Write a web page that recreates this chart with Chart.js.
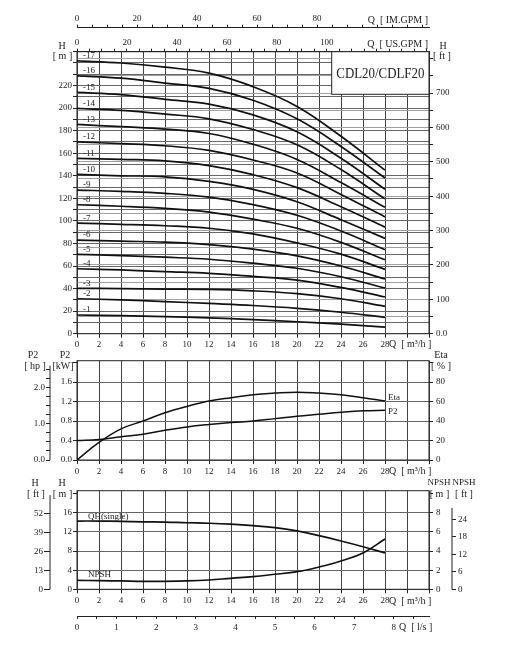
<!DOCTYPE html>
<html>
<head>
<meta charset="utf-8">
<script src="https://cdn.jsdelivr.net/npm/chart.js@4.4.1/dist/chart.umd.min.js"></script>
<style>
    html, body { margin: 0; padding: 0; background: #fff; }
    #page { position: relative; width: 517px; height: 650px; overflow: hidden; background: #fff; }
    #page canvas { position: absolute; left: 0; }
</style>
</head>
<body>
<div id="page">
    <canvas id="qh-chart" width="517" height="352" style="top:0px"></canvas>
    <canvas id="power-chart" width="517" height="128" style="top:348px"></canvas>
    <canvas id="npsh-chart" width="517" height="174" style="top:476px"></canvas>
</div>
<script>
// ---------- data (read off the CDL20 / CDLF20 sheet) ----------
// head of each stage count, Q in m3/h
const stageFlow = [0, 4, 8, 12, 16, 20, 24, 28];
const headStage1  = [16.6, 16.0, 15.2, 14.0, 12.5, 10.6, 8.5, 5.8];
const headStage2  = [31.0, 30.0, 28.5, 26.8, 25.0, 22.5, 19.0, 14.5];
const headStage3  = [40.2, 40.0, 39.6, 39.3, 38.0, 35.5, 31.0, 24.2];
const headStage4  = [57.6, 56.5, 55.0, 53.5, 50.8, 47.5, 41.0, 32.5];
const headStage5  = [70.3, 69.3, 67.8, 66.0, 62.5, 58.0, 50.5, 40.5];
const headStage6  = [83.0, 82.0, 81.2, 79.0, 75.0, 69.0, 60.0, 48.5];
const headStage7  = [98.0, 97.0, 95.7, 93.5, 88.5, 80.5, 70.5, 57.0];
const headStage8  = [114.3, 113.0, 111.1, 107.8, 101.5, 93.5, 81.0, 65.5];
const headStage9  = [127.3, 126.2, 124.4, 121.0, 114.5, 105.0, 91.0, 74.5];
const headStage10 = [141.2, 140.0, 139.1, 135.0, 128.0, 117.0, 101.0, 84.5];
const headStage11 = [155.4, 154.5, 153.3, 149.0, 141.0, 129.5, 112.5, 94.5];
const headStage12 = [170.0, 168.5, 166.6, 162.5, 154.0, 142.5, 123.5, 103.5];
const headStage13 = [185.5, 183.5, 181.4, 177.5, 168.0, 154.5, 134.0, 112.0];
const headStage14 = [199.7, 198.0, 194.7, 190.5, 181.0, 167.5, 145.5, 119.5];
const headStage15 = [213.9, 212.0, 207.7, 203.5, 194.0, 179.0, 155.5, 128.0];
const headStage16 = [228.6, 226.5, 222.2, 217.5, 207.0, 190.5, 166.0, 138.0];
const headStage17 = [241.9, 240.0, 236.3, 231.0, 219.0, 201.5, 175.0, 145.0];

// single stage curves, Q in m3/h
const curveFlow = [0, 2, 4, 6, 8, 10, 12, 14, 16, 18, 20, 22, 24, 26, 28];
const etaPct   = [0, 18, 32, 40, 48.5, 55, 60.5, 64, 67, 68.7, 69.7, 68.7, 67, 64, 60.5];
const p2Kw     = [0.40, 0.42, 0.48, 0.53, 0.61, 0.68, 0.73, 0.77, 0.80, 0.85, 0.90, 0.94, 0.98, 1.01, 1.02];
const qhSingle = [14.26, 14.26, 14.2, 14.1, 14.05, 13.9, 13.8, 13.6, 13.3, 12.9, 12.2, 11.2, 10.1, 8.9, 7.6];
const npshM    = [0.94, 0.90, 0.87, 0.83, 0.83, 0.87, 0.97, 1.15, 1.32, 1.57, 1.84, 2.33, 2.96, 3.79, 5.25];

const stageHeads = [headStage1, headStage2, headStage3, headStage4, headStage5, headStage6,
    headStage7, headStage8, headStage9, headStage10, headStage11, headStage12, headStage13,
    headStage14, headStage15, headStage16, headStage17];

// unit conversions
const US_GPM = 4.4029;   // per m3/h
const IM_GPM = 3.6662;   // per m3/h
const L_S = 1 / 3.6;     // per m3/h
const FT = 3.28084;      // per m
const HP = 1.34102;      // per kW

const Q_MAX = 32;
const FONT = 'Liberation Serif';
const INK = '#222';

// ---------- helpers ----------
const fixW = (w) => (s) => { s.width = w; };
const fixH = (h) => (s) => { s.height = h; };
const isInt = (v) => Math.abs(v - Math.round(v)) < 1e-6;

function pairs(xs, ys) {
    return xs.map((x, i) => ({ x: x, y: ys[i] }));
}

function curve(data, yAxisID, width) {
    return {
        data: data,
        yAxisID: yAxisID,
        borderColor: '#111',
        borderWidth: width || 1.7,
        pointRadius: 0,
        fill: false,
        tension: 0.4
    };
}

// one scale with a fixed box size so the three charts line up
// o.axisTop: the outer unit axes stop short of the frame top
function scale(o) {
    const horiz = o.position === 'top' || o.position === 'bottom';
    const inRange = (c) => !(o.axisTop && c.tick && c.tick.value > o.axisTop);
    return {
        type: 'linear',
        position: o.position,
        weight: o.weight || 0,
        min: 0,
        max: o.max,
        axisTop: o.axisTop,
        afterFit: horiz ? fixH(o.size) : fixW(o.size),
        border: { display: o.border !== false && !o.axisTop, color: INK, width: 1 },
        grid: {
            drawOnChartArea: !!o.grid,
            color: o.grid || 'transparent',
            lineWidth: 1,
            tickLength: o.tick || 4,
            tickColor: (c) => (inRange(c) ? INK : 'transparent')
        },
        ticks: {
            stepSize: o.step,
            autoSkip: false,
            includeBounds: false,
            maxRotation: 0,
            padding: o.pad == null ? 2 : o.pad,
            color: INK,
            font: { family: FONT, size: 9 },
            callback: o.label
        }
    };
}

function flowScale(height) {
    return scale({
        position: 'bottom', max: Q_MAX, size: height, step: 2, border: false,
        grid: '#444', label: (v) => (v <= 28 ? String(v) : '')
    });
}

function put(ctx, str, x, y, align, size) {
    ctx.font = (size || 9) + 'px "' + FONT + '"';
    ctx.fillStyle = INK;
    ctx.textAlign = align || 'center';
    ctx.textBaseline = 'middle';
    ctx.fillText(str, x, y);
}

// frame round the plot + the shortened outer axis lines
const framePlugin = {
    id: 'frame',
    beforeDatasetsDraw(chart) {
        const { ctx, chartArea: a } = chart;
        ctx.save();
        ctx.strokeStyle = INK;
        ctx.lineWidth = 1;
        ctx.strokeRect(a.left, a.top, a.right - a.left, a.bottom - a.top);
        Object.values(chart.scales).forEach((s) => {
            if (!s.options.axisTop) return;
            const x = s.position === 'left' ? s.right : s.left;
            ctx.beginPath();
            ctx.moveTo(x, s.getPixelForValue(0));
            ctx.lineTo(x, s.getPixelForValue(s.options.axisTop));
            ctx.stroke();
        });
        ctx.restore();
    }
};

const baseOptions = {
    responsive: false,
    animation: false,
    events: [],
    plugins: { legend: { display: false }, tooltip: { enabled: false } }
};

// ---------- QH chart (all stages) ----------
new Chart(document.getElementById('qh-chart'), {
    type: 'line',
    data: {
        datasets: stageHeads.map((h) => curve(pairs(stageFlow, h), 'y', 1.7))
    },
    options: {
        ...baseOptions,
        layout: { padding: 0 },
        scales: {
            x: flowScale(18.3),
            xUs: scale({
                position: 'top', weight: 0, max: Q_MAX * US_GPM, size: 24, step: 5, tick: 3, pad: 1,
                label: (v) => (v % 20 === 0 && v <= 100 ? String(v) : '')
            }),
            xIm: scale({
                position: 'top', weight: 1, max: Q_MAX * IM_GPM, size: 27.7, step: 5, tick: 3, pad: 1,
                label: (v) => (v % 20 === 0 && v <= 80 ? String(v) : '')
            }),
            y: scale({
                position: 'left', weight: 0, max: 250, size: 77, step: 10, pad: 1, border: false,
                grid: '#666', label: (v) => (v % 20 === 0 && v <= 220 ? String(v) : '')
            }),
            yFt: scale({
                position: 'right', weight: 0, max: 250 * FT, size: 88, step: 50, pad: 3, border: false,
                grid: '#a0a0a0', label: (v) => (v === 0 ? '0.0' : (v % 100 === 0 && v <= 700 ? String(v) : ''))
            })
        }
    },
    plugins: [framePlugin, {
        id: 'qhText',
        beforeDatasetsDraw(chart) {
            // model name box in the top right corner
            const { ctx, chartArea: a } = chart;
            const left = a.right - 97.3;
            ctx.save();
            ctx.fillStyle = '#fff';
            ctx.fillRect(left, a.top, a.right - left, 42.6);
            ctx.strokeStyle = INK;
            ctx.lineWidth = 1;
            ctx.strokeRect(left, a.top, a.right - left, 42.6);
            ctx.translate((left + a.right) / 2, a.top + 22);
            ctx.scale(0.86, 1);
            put(ctx, 'CDL20/CDLF20', 0, 0, 'center', 15);
            ctx.restore();
        },
        afterDraw(chart) {
            const { ctx, scales } = chart;
            ctx.save();
            put(ctx, 'Q  [ IM.GPM ]', 428, 20, 'right', 10);
            put(ctx, 'Q  [ US.GPM ]', 428, 44, 'right', 10);
            put(ctx, 'H', 62, 46, 'center', 10);
            put(ctx, '[ m ]', 62.5, 56.5, 'center', 10);
            put(ctx, 'H', 443, 46, 'center', 10);
            put(ctx, '[ ft ]', 442, 56.5, 'center', 10);
            put(ctx, 'Q  [ m³/h ]', 389, 344.5, 'left', 10);
            // stage count next to the start of every curve
            const x0 = scales.x.getPixelForValue(0) + 6;
            stageHeads.forEach((h, i) => {
                put(ctx, '-' + (i + 1), x0, scales.y.getPixelForValue(h[0]) - 5, 'left', 9);
            });
            ctx.restore();
        }
    }]
});

// ---------- P2 / Eta chart ----------
const KW_MAX = 2.04;
new Chart(document.getElementById('power-chart'), {
    type: 'line',
    data: {
        datasets: [
            curve(pairs(curveFlow, etaPct), 'yEta', 1.5),
            curve(pairs(curveFlow, p2Kw), 'y', 1.5)
        ]
    },
    options: {
        ...baseOptions,
        layout: { padding: { top: 12.7, left: 0, right: 0, bottom: 0 } },
        scales: {
            x: flowScale(16),
            y: scale({
                position: 'left', weight: 0, max: KW_MAX, size: 27, step: 0.4, pad: 1, border: false,
                grid: (c) => (c.tick && c.tick.value > 1.7 ? 'transparent' : '#666'),
                label: (v) => (v <= 1.7 ? v.toFixed(1) : '')
            }),
            yHp: scale({
                position: 'left', weight: 1, max: KW_MAX * HP, size: 50, step: 0.25, pad: 1, axisTop: 2.6,
                label: (v) => (isInt(v) ? v.toFixed(1) : '')
            }),
            yEta: scale({
                position: 'right', weight: 0, max: KW_MAX * 50, size: 88, step: 20, pad: 3, border: false,
                label: (v) => (v <= 80 ? String(v) : '')
            })
        }
    },
    plugins: [framePlugin, {
        id: 'powerText',
        afterDraw(chart) {
            const { ctx } = chart;
            ctx.save();
            put(ctx, 'P2', 33, 7, 'center', 10);
            put(ctx, '[ hp ]', 35, 18, 'center', 10);
            put(ctx, 'P2', 65, 7, 'center', 10);
            put(ctx, '[kW]', 63, 18, 'center', 10);
            put(ctx, 'Eta', 441, 7, 'center', 10);
            put(ctx, '[ % ]', 441, 18, 'center', 10);
            put(ctx, 'Q  [ m³/h ]', 389, 123, 'left', 10);
            put(ctx, 'Eta', 388, 49.5, 'left', 9);
            put(ctx, 'P2', 388, 64, 'left', 9);
            ctx.restore();
        }
    }]
});

// ---------- single stage QH / NPSH chart ----------
const H_MAX = 20.6;
new Chart(document.getElementById('npsh-chart'), {
    type: 'line',
    data: {
        datasets: [
            curve(pairs(curveFlow, qhSingle), 'y', 1.7),
            curve(pairs(curveFlow, npshM), 'yNpsh', 1.7)
        ]
    },
    options: {
        ...baseOptions,
        layout: { padding: { top: 14.7, left: 0, right: 0, bottom: 0 } },
        scales: {
            x: flowScale(26.7),
            xLs: scale({
                position: 'bottom', weight: 1, max: Q_MAX * L_S, size: 34, step: 0.5, tick: 3, pad: 3,
                label: (v) => (isInt(v) && v <= 8 ? String(v) : '')
            }),
            y: scale({
                position: 'left', weight: 0, max: H_MAX, size: 27, step: 4, pad: 1, border: false,
                grid: (c) => (c.tick && c.tick.value > 17 ? 'transparent' : '#666'),
                label: (v) => (v <= 16 ? String(v) : '')
            }),
            yFt: scale({
                position: 'left', weight: 1, max: H_MAX * FT, size: 50, step: 13, tick: 6, pad: 1, axisTop: 64.6,
                label: (v) => (v <= 52 ? String(v) : '')
            }),
            yNpsh: scale({
                position: 'right', weight: 0, max: H_MAX / 2, size: 23, step: 2, pad: 3, border: false,
                label: (v) => (v <= 8 ? String(v) : '')
            }),
            yNpshFt: scale({
                position: 'right', weight: 1, max: H_MAX / 2 * FT, size: 65, step: 6, pad: 2, axisTop: 27.9,
                label: (v) => (v <= 24 ? String(v) : '')
            })
        }
    },
    plugins: [framePlugin, {
        id: 'npshText',
        afterDraw(chart) {
            const { ctx } = chart;
            ctx.save();
            put(ctx, 'H', 35, 7, 'center', 10);
            put(ctx, '[ ft ]', 36, 18, 'center', 10);
            put(ctx, 'H', 62, 7, 'center', 10);
            put(ctx, '[ m ]', 62.5, 18, 'center', 10);
            put(ctx, 'NPSH', 439, 7, 'center', 9);
            put(ctx, '[ m ]', 439.5, 18, 'center', 10);
            put(ctx, 'NPSH', 464, 7, 'center', 9);
            put(ctx, '[ ft ]', 464, 18, 'center', 10);
            put(ctx, 'Q  [ m³/h ]', 389, 125, 'left', 10);
            put(ctx, 'Q  [ l/s ]', 399, 151, 'left', 10);
            put(ctx, 'QH(single)', 88, 41, 'left', 9);
            put(ctx, 'NPSH', 88, 98.5, 'left', 9);
            ctx.restore();
        }
    }]
});
</script>
</body>
</html>
